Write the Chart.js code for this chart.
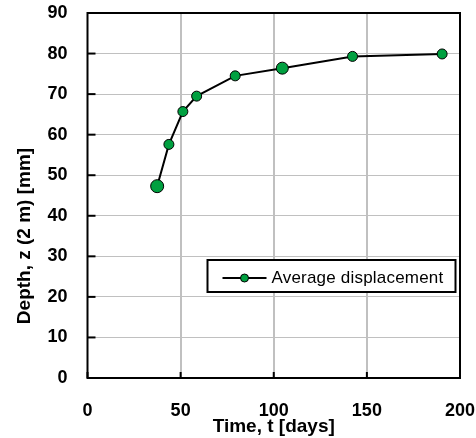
<!DOCTYPE html>
<html>
<head>
<meta charset="utf-8">
<script src="https://cdn.jsdelivr.net/npm/chart.js@4.4.1/dist/chart.umd.min.js"></script>
<style>
  html, body { margin: 0; padding: 0; background: #fff; }
  #wrap { width: 476px; height: 438px; }
</style>
</head>
<body>
<div id="wrap"><canvas id="chart" width="476" height="438"></canvas></div>
<script>
// Данные
const timeDays = [37.4, 43.7, 51.2, 58.6, 79.3, 104.6, 142.3, 190.4];
const depthMm = [47.3, 57.6, 65.7, 69.5, 74.5, 76.4, 79.3, 79.9];
const seriesLabel = 'Average displacement';
const xTitle = 'Time, t [days]';
const yTitle = 'Depth, z (2 m) [mm]';

const FONT = "'Liberation Sans', Arial, sans-serif";
const GREEN = '#00a040';

// Рамка, внутренние засечки, подпись оси Y и легенда внутри графика
const framePlugin = {
    id: 'frame',
    beforeDatasetsDraw(chart) {
        const { ctx, chartArea: a, scales } = chart;
        ctx.save();
        ctx.strokeStyle = '#000';
        ctx.lineWidth = 2;
        ctx.strokeRect(a.left, a.top, a.right - a.left, a.bottom - a.top);
        // засечки внутрь
        scales.y.ticks.forEach(t => {
            const y = scales.y.getPixelForValue(t.value);
            ctx.beginPath();
            ctx.moveTo(a.left, y);
            ctx.lineTo(a.left + 8, y);
            ctx.stroke();
        });
        scales.x.ticks.forEach(t => {
            const x = scales.x.getPixelForValue(t.value);
            ctx.beginPath();
            ctx.moveTo(x, a.bottom);
            ctx.lineTo(x, a.bottom - 6);
            ctx.stroke();
        });
        ctx.restore();
    },
    afterDraw(chart) {
        const { ctx, chartArea: a } = chart;
        ctx.save();
        // подпись оси Y
        ctx.fillStyle = '#000';
        ctx.font = 'bold 19px ' + FONT;
        ctx.textAlign = 'center';
        ctx.textBaseline = 'middle';
        ctx.translate(25, a.top + 223);
        ctx.rotate(-Math.PI / 2);
        ctx.fillText(yTitle, 0, 0);
        ctx.restore();

        // легенда
        ctx.save();
        const bx = a.left + 120, by = a.top + 247, bw = 248, bh = 32;
        ctx.fillStyle = '#fff';
        ctx.fillRect(bx, by, bw, bh);
        ctx.strokeStyle = '#000';
        ctx.lineWidth = 2;
        ctx.strokeRect(bx, by, bw, bh);
        const ly = by + 18;
        ctx.beginPath();
        ctx.moveTo(bx + 15, ly);
        ctx.lineTo(bx + 59, ly);
        ctx.stroke();
        ctx.beginPath();
        ctx.arc(bx + 37, ly, 4, 0, Math.PI * 2);
        ctx.fillStyle = GREEN;
        ctx.fill();
        ctx.lineWidth = 1;
        ctx.stroke();
        ctx.fillStyle = '#000';
        ctx.font = '17px ' + FONT;
        ctx.letterSpacing = '0.2px';
        ctx.textAlign = 'left';
        ctx.textBaseline = 'middle';
        ctx.fillText(seriesLabel, bx + 64, ly);
        ctx.restore();
    }
};

new Chart(document.getElementById('chart'), {
    type: 'line',
    data: {
        datasets: [{
            label: seriesLabel,
            data: timeDays.map((t, i) => ({ x: t, y: depthMm[i] })),
            borderColor: '#000',
            borderWidth: 2,
            backgroundColor: GREEN,
            pointBackgroundColor: GREEN,
            pointBorderColor: '#000',
            pointBorderWidth: 1,
            pointRadius: [6.5, 5, 5, 5, 5, 6, 5, 5],
            tension: 0
        }]
    },
    options: {
        responsive: false,
        animation: false,
        layout: { padding: { left: 0, top: 13, right: 16, bottom: 0 } },
        plugins: {
            legend: { display: false },
            tooltip: { enabled: false }
        },
        scales: {
            x: {
                type: 'linear',
                min: 0,
                max: 200,
                afterFit: s => {
                    s.height = 60;
                    s.paddingLeft = 0;
                    s.paddingRight = 0;
                },
                ticks: {
                    stepSize: 50,
                    color: '#000',
                    padding: 22,
                    font: { family: FONT, size: 18, weight: 'bold' }
                },
                grid: {
                    drawTicks: false,
                    lineWidth: 2,
                    color: c => (c.tick && (c.tick.value === 0 || c.tick.value === 200)) ? 'rgba(0,0,0,0)' : '#c0c0c0'
                },
                border: { display: false },
                title: {
                    display: true,
                    text: xTitle,
                    color: '#000',
                    padding: { top: 0, bottom: 0 },
                    font: { family: FONT, size: 19, weight: 'bold' }
                }
            },
            y: {
                min: 0,
                max: 90,
                afterFit: s => {
                    s.width = 87.5;
                    s.paddingTop = 0;
                    s.paddingBottom = 0;
                },
                ticks: {
                    stepSize: 10,
                    color: '#000',
                    padding: 20,
                    font: { family: FONT, size: 18, weight: 'bold' }
                },
                grid: {
                    drawTicks: false,
                    lineWidth: 1,
                    color: '#c0c0c0'
                },
                border: { display: false }
            }
        }
    },
    plugins: [framePlugin]
});
</script>
</body>
</html>
